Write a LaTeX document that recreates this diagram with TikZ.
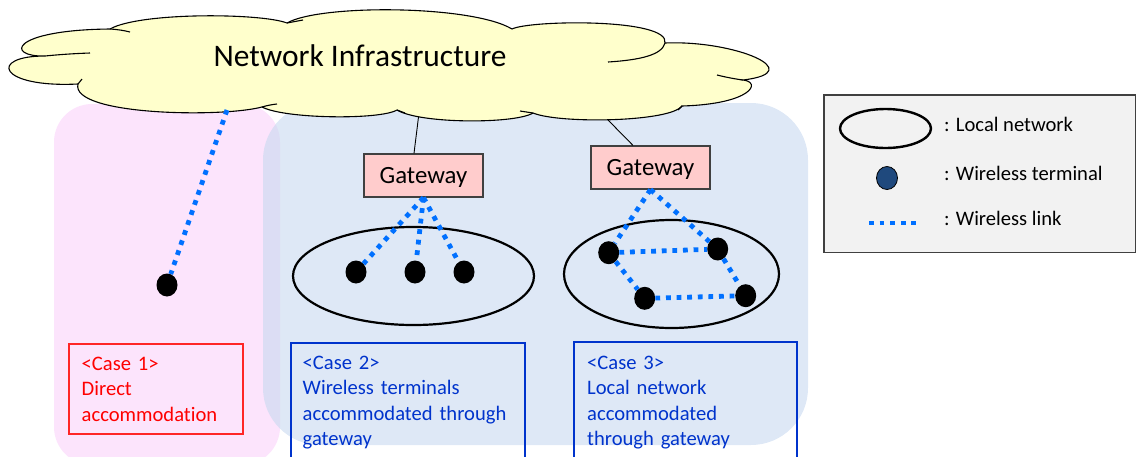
\documentclass[tikz,border=0pt]{standalone}
\usepackage{fontspec}
\setmainfont{Carlito}[Ligatures=NoCommon]
\usetikzlibrary{shapes.geometric,calc}
\definecolor{cloudfill}{RGB}{255,255,204}
\definecolor{pinkzone}{RGB}{252,228,252}
\definecolor{bluezone}{RGB}{200,217,240}
\definecolor{gwfill}{RGB}{255,204,204}
\definecolor{linkblue}{RGB}{0,112,255}
\definecolor{casered}{RGB}{255,0,0}
\definecolor{caseblue}{RGB}{0,51,204}
\definecolor{legfill}{RGB}{242,242,242}
\definecolor{legedge}{RGB}{64,64,64}
\definecolor{termblue}{RGB}{31,73,125}
\begin{document}
\begin{tikzpicture}[x=1pt,y=-1pt,
  wlink/.style={draw=linkblue, line width=4.8pt, dash pattern=on 4.8pt off 5.8pt},
  term/.style={ellipse, fill=black, minimum width=21pt, minimum height=23pt, inner sep=0pt},
  lnet/.style={ellipse, draw=black, line width=2.2pt, inner sep=0pt},
  gwbox/.style={draw=black!75, line width=1.2pt, fill=gwfill, minimum width=119pt,
    minimum height=43pt, inner sep=0pt, font=\fontsize{24.8}{30}\selectfont,
    text height=17pt, text depth=2pt},
  casetxt/.style={font=\fontsize{20.6}{25.5}\selectfont, align=left, text width=260pt,
    anchor=base west, inner sep=0pt},
  legtxt/.style={font=\fontsize{20.6}{25}\selectfont, anchor=base west, inner sep=0pt},
  hint/.style={draw=black, line width=1.1pt},
  casebox/.style={line width=1.3pt}
]
\useasboundingbox (0,0) rectangle (1136,456);

% zones of the three cases
\fill[pinkzone, rounded corners=38pt] (54,104) rectangle (280,465);
\fill[bluezone, fill opacity=0.6, rounded corners=57pt] (263,103) rectangle (808,445);

% case description boxes
\draw[casebox, draw=casered!85!white] (69,344) rectangle (243,434);
\draw[casebox, draw=caseblue] (291,343) rectangle (525,460);
\draw[casebox, draw=caseblue] (574,342) rectangle (797,460);
\node[casetxt, text=casered] (case1) at (81.5,370) {<Case 1>\\Direct\\accommodation};
\node[casetxt, text=caseblue] (case2) at (302.5,369) {<Case 2>\\Wireless terminals\\accommodated through\\gateway};
\node[casetxt, text=caseblue] (case3) at (587,369) {<Case 3>\\Local network\\accommodated\\through gateway};

% network infrastructure cloud
\path[draw=black, line width=1.1pt, fill=cloudfill]
  (110,29) .. controls (140,12) and (261,13) .. (287,23)
  .. controls (320,4) and (472,5) .. (512,29)
  .. controls (530,20) and (670,18) .. (665,43)
  .. controls (735,40) and (810,72) .. (743,80)
  .. controls (762,82) and (752,104) .. (682,106)
  .. controls (670,122) and (560,124) .. (533,113)
  .. controls (515,124) and (420,124) .. (397,110)
  .. controls (380,120) and (285,119) .. (262,107)
  .. controls (220,118) and (70,115) .. (78,84)
  .. controls (-2,88) and (-12,56) .. (45,56)
  .. controls (5,57) and (10,30) .. (110,29) -- cycle;
% inner strokes of the cloud puffs
\draw[hint] (110,29) .. controls (118,29.5) and (124,30.5) .. (130,32);
\draw[hint] (45,56) .. controls (60,54.5) and (75,53.5) .. (90,53);
\draw[hint] (78,84) -- (82,79);
\draw[hint] (262,107) .. controls (267,105.5) and (272,104.5) .. (277,104);
\draw[hint] (397,110) -- (405,113);
\draw[hint] (533,113) -- (520,111);
\draw[hint] (682,106) -- (678,110);
\draw[hint] (743,80) .. controls (735,79) and (725,77) .. (717,75);
\draw[hint] (665,43) .. controls (662,55) and (640,60) .. (608,62);
\draw[hint] (287,23) -- (303,20);
\node[font=\fontsize{31.4}{36}\selectfont, anchor=base, inner sep=0pt] (infra) at (360,66) {Network Infrastructure};

\coordinate (cdir) at (227,110);
\coordinate (cg1) at (418.5,117);
\coordinate (cg2) at (608,120);

% gateways
\node[gwbox] (gw1) at (423.5,175.5) {Gateway};
\node[gwbox] (gw2) at (650.5,167.5) {Gateway};
\draw[line width=0.9pt] (cg1) -- ($(gw1.north)+(-9.5,0)$);
\draw[line width=0.9pt] (cg2) -- ($(gw2.north)+(-17.5,0)$);

% local networks
\node[lnet, minimum width=241pt, minimum height=98pt] (ln1) at (413.5,276) {};
\node[lnet, minimum width=215pt, minimum height=108pt] (ln2) at (671.5,274) {};

% wireless terminals
\node[term] (t0) at (167,285) {};
\node[term] (t1) at (356,272) {};
\node[term] (t2) at (415,272) {};
\node[term] (t3) at (464,272) {};
\node[term] (tA) at (608.7,252.7) {};
\node[term] (tB) at (717.7,249) {};
\node[term] (tC) at (644.7,298.3) {};
\node[term] (tD) at (745.7,295.7) {};

% wireless links
\draw[wlink] (cdir) -- (t0);
\draw[wlink] (gw1.south) -- (t1);
\draw[wlink] (gw1.south) -- (t2);
\draw[wlink] (gw1.south) -- (t3);
\draw[wlink] (gw2.south) -- (tA);
\draw[wlink] (gw2.south) -- (tB);
\draw[wlink] (tA) -- (tB);
\draw[wlink] (tA) -- (tC);
\draw[wlink] (tB) -- (tD);
\draw[wlink] (tC) -- (tD);

% legend
\draw[draw=legedge, fill=legfill, line width=1.5pt] (824,95) rectangle (1135.5,252.5);
\node[ellipse, draw=black, line width=2.4pt, minimum width=91pt, minimum height=39pt, inner sep=0pt] (lg1) at (885.5,128.5) {};
\node[ellipse, draw=black, line width=0.8pt, fill=termblue, minimum width=21pt, minimum height=23pt, inner sep=0pt] (lg2) at (887,178) {};
\coordinate (lg3a) at (869,223);
\coordinate (lg3b) at (916.5,223);
\draw[wlink] (lg3a) -- (lg3b);
\node[legtxt] (lt1) at (944,131.5) {: Local network};
\node[legtxt] (lt2) at (944,180.7) {: Wireless terminal};
\node[legtxt] (lt3) at (944,225) {: Wireless link};
\end{tikzpicture}
\end{document}
